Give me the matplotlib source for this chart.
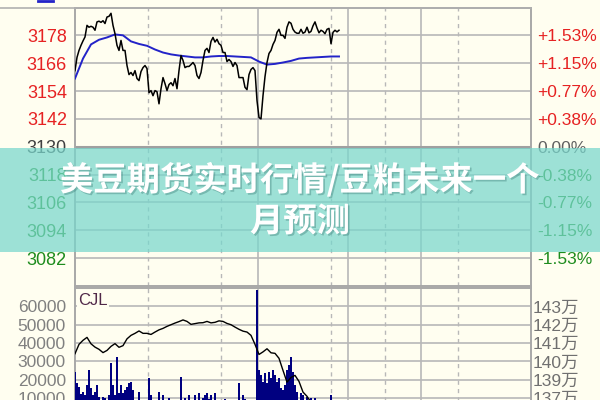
import matplotlib
matplotlib.use('Agg')
import matplotlib.pyplot as plt
import matplotlib.patheffects as pe
from matplotlib.patches import Rectangle
from matplotlib.lines import Line2D
import numpy as np

plt.rcParams['font.family'] = ['Liberation Sans', 'Noto Sans CJK SC', 'DejaVu Sans']

# ---------------- data ----------------
price = [3162.8, 3168.5, 3171.5, 3173.7, 3175.6, 3177.3, 3182.3, 3181.5, 3181.9, 3181.5,
         3180.2, 3183.8, 3184.1, 3183.6, 3184.3, 3183.1, 3185.9, 3186.2, 3187.5, 3182.3,
         3178.7, 3173.7, 3171.5, 3175.8, 3171.5, 3171.5, 3165.0, 3161.1, 3162.0, 3160.7,
         3162.8, 3159.4, 3158.5, 3162.4, 3164.1, 3165.0, 3163.7, 3153.3, 3154.2, 3152.0,
         3154.2, 3153.7, 3148.5, 3155.0, 3159.8, 3157.2, 3154.2, 3156.8, 3157.6, 3156.3,
         3159.4, 3155.0, 3162.8, 3169.3, 3167.2, 3164.1, 3164.6, 3164.6, 3165.4, 3166.3,
         3165.0, 3160.7, 3159.4, 3162.0, 3167.2, 3171.5, 3172.4, 3170.6, 3175.4, 3177.1,
         3175.1, 3176.3, 3174.4, 3173.7, 3170.6, 3170.6, 3166.7, 3167.6, 3166.7, 3164.6,
         3166.3, 3165.0, 3159.8, 3159.8, 3159.8, 3155.6, 3154.6, 3161.1, 3163.3, 3164.1,
         3162.8, 3149.9, 3142.6, 3142.0, 3152.0, 3160.2, 3166.3, 3170.2, 3171.5, 3174.1,
         3175.8, 3179.3, 3180.6, 3178.0, 3178.0, 3176.7, 3181.5, 3183.8, 3183.2, 3180.6,
         3179.4, 3178.9, 3178.9, 3180.6, 3178.9, 3179.4, 3181.5, 3179.1, 3179.7, 3182.1,
         3183.8, 3181.2, 3179.1, 3180.2, 3179.7, 3178.7, 3180.6, 3181.0, 3174.4, 3179.3,
         3180.2, 3179.5, 3180.2]

avg_price = [3159.4, 3168.0, 3174.1, 3176.1, 3177.1, 3178.4, 3178.0, 3175.4, 3174.3, 3173.5,
             3171.9, 3170.6, 3169.8, 3169.3, 3168.9, 3168.5, 3168.5, 3168.9, 3169.1, 3169.1,
             3168.9, 3168.7, 3168.5, 3166.7, 3165.4, 3165.7, 3166.3, 3167.0, 3168.0, 3168.3,
             3168.5, 3168.7, 3168.9, 3168.9]

volume = [24400, 18000, 16000, 12000, 13500, 11500, 17000, 25300, 15400, 11700,
          13500, 17200, 10800, 8000, 10800, 9900, 7000, 11700, 29000, 17200,
          11700, 32600, 12600, 17200, 12600, 14400, 16200, 18100, 19000, 14400,
          6000, 7000, 13500, 5000, 6000, 5000, 7000, 20800, 11700, 6000,
          5000, 7000, 13500, 6000, 11700, 5000, 6000, 9900, 5000, 4000,
          6000, 5000, 7000, 21700, 6000, 9900, 5000, 11700, 6000, 5000,
          11700, 7000, 12600, 6000, 9900, 11700, 12600, 9500, 11700, 6000,
          12600, 5000, 6000, 7000, 5000, 9500, 5000, 6000, 5000, 7000,
          6000, 5000, 18100, 6000, 11700, 9500, 7000, 6000, 5000, 7000,
          8000, 69000, 25300, 22600, 19000, 23500, 18100, 24400, 20800, 25300,
          22600, 19000, 20800, 15400, 14400, 17200, 25300, 28100, 32600, 24400,
          17200, 13500, 9000, 12600, 11700, 8000, 10800, 7000, 9900, 6000,
          9900, 7000, 9000, 6000, 5000, 7000, 6000, 5000, 11700, 6000,
          5000, 6000, 5000]

cjl = [140.42, 140.93, 141.15, 141.31, 140.96, 140.78, 140.66, 140.48, 140.60, 140.82,
       140.97, 140.77, 140.86, 141.23, 141.42, 141.53, 141.66, 141.53, 141.53, 141.47,
       141.60, 141.72, 141.80, 141.91, 142.00, 142.09, 142.17, 142.26, 142.18, 142.02,
       142.06, 142.10, 142.11, 142.18, 142.10, 142.13, 142.21, 142.18, 142.07, 142.00,
       141.87, 141.75, 141.65, 141.60, 141.42, 140.93, 140.38, 140.52, 140.69, 140.47,
       140.44, 140.17, 139.51, 138.87, 139.13, 139.24, 138.91, 138.33, 138.10, 137.77,
       137.66, 137.60, 137.55, 137.52, 137.50, 137.44, 137.39]

price_ticks = [3178, 3166, 3154, 3142, 3130, 3118, 3106, 3094, 3082]
pct_labels = ['+1.53%', '+1.15%', '+0.77%', '+0.38%', '0.00%',
              '-0.38%', '-0.77%', '-1.15%', '-1.53%']
vol_ticks = [60000, 50000, 40000, 30000, 20000, 10000]
cjl_ticks = [143, 142, 141, 140, 139, 138]
cjl_labels = ['143万', '142万', '141万', '140万', '139万', '137万']
banner_lines = ['美豆期货实时行情/豆粕未来一个', '月预测']
prev_close = 3130

# ---------------- layout / style ----------------
W, H = 600, 400
BG = '#FFFEF0'
GRID = '#b8b8b8'
RED = '#e62222'
GREEN = '#1e8c1e'
N_SLOTS = 228
dashed_slots = [36.5, 73, 128, 155, 191.5]
solid_slots = [91.5, 136.5, 173]

fig = plt.figure(figsize=(6, 4), dpi=100, facecolor=BG)


def box(left, top, right, bottom):
    return [left / W, 1 - bottom / H, (right - left) / W, (bottom - top) / H]


ax = fig.add_axes(box(75, 7.5, 531, 286))
axv = fig.add_axes(box(75, 288, 531, 416.5))

for a in (ax, axv):
    a.set_facecolor(BG)
    a.set_xlim(0, N_SLOTS)
    a.set_xticks([])
    for s in a.spines.values():
        s.set_color('#a8a8a8')
        s.set_linewidth(1.4)
    for xs in dashed_slots:
        a.axvline(xs, color=GRID, lw=1.0, ls=(0, (3, 3)), zorder=1)
    for xs in solid_slots:
        a.axvline(xs, color=GRID, lw=1.2, zorder=1)

# ---- price panel ----
ax.set_ylim(3070, 3190)
for t in price_ticks:
    ax.axhline(t, color=GRID if t != prev_close else '#a0a0a0',
               lw=1.2 if t != prev_close else 2.2, zorder=1)

x_price = np.arange(len(price))
x_avg = np.arange(len(avg_price)) * 4
ax.plot(x_avg, avg_price, color='#2323c8', lw=1.4, zorder=3)
ax.plot(x_price, price, color='black', lw=1.1, zorder=4)

ax.set_yticks(price_ticks)
ax.set_yticklabels([str(t) for t in price_ticks])
ax.tick_params(axis='y', length=0, pad=5.8, labelsize=13)
for lab, t in zip(ax.get_yticklabels(), price_ticks):
    lab.set_color(RED if t > prev_close else ('#404040' if t == prev_close else GREEN))

axr = ax.twinx()
axr.set_ylim(ax.get_ylim())
axr.set_yticks(price_ticks)
axr.set_yticklabels(pct_labels)
axr.tick_params(axis='y', length=0, pad=4.3, labelsize=12.5)
for s in axr.spines.values():
    s.set_visible(False)
for lab, t in zip(axr.get_yticklabels(), price_ticks):
    lab.set_color(RED if t > prev_close else ('#606060' if t == prev_close else GREEN))

# ---- volume panel ----
axv.set_ylim(0, 70000)
for t in vol_ticks:
    axv.axhline(t, color=GRID, lw=1.2, zorder=1)
x_vol = np.arange(len(volume))
axv.bar(x_vol, volume, width=0.7, color='#000080', zorder=3)
axv.set_yticks(vol_ticks)
axv.set_yticklabels([str(t) for t in vol_ticks])
axv.tick_params(axis='y', length=0, pad=6.5, labelsize=12.5, labelcolor='#808080')

axc = axv.twinx()
axc.set_ylim(137, 144)
x_cjl = np.arange(len(cjl)) * 2
axc.plot(x_cjl, cjl, color='black', lw=1.0, zorder=4)
axc.set_yticks(cjl_ticks)
axc.set_yticklabels(cjl_labels)
axc.tick_params(axis='y', length=0, pad=1.5, labelsize=12.5, labelcolor='#707070')
for s in axc.spines.values():
    s.set_visible(False)

axv.text(0.007, 0.905, 'CJL', transform=axv.transAxes, fontsize=12,
         color='#502848', va='center', ha='left', zorder=6,
         bbox=dict(facecolor=BG, edgecolor='none', pad=0.6))

# top border line and clipped legend remnant
fig.add_artist(Line2D([0, 531 / W], [1 - 8 / H, 1 - 8 / H], color='#b0b0b0', lw=1.2))
fig.add_artist(Line2D([38 / W, 53 / W], [1 - 0.8 / H, 1 - 0.8 / H], color='#2323c8', lw=2))

# ---- banner overlay ----
fig.add_artist(Rectangle((0, 1 - 252 / H), 1, 104 / H, transform=fig.transFigure,
                         facecolor='#78D7CD', edgecolor='none', alpha=0.72, zorder=5))
shadow = [pe.withSimplePatchShadow(offset=(1.2, -1.2), shadow_rgbFace='#2f6f6a', alpha=0.35)]
for txt, yy in zip(banner_lines, [180, 222]):
    fig.text(0.5, 1 - yy / H, txt, ha='center', va='center', color='white',
             fontsize=24, fontweight='bold',
             family=['Noto Sans CJK SC', 'DejaVu Sans'], zorder=6, path_effects=shadow)

fig.savefig('out.png', dpi=100, facecolor=BG)
